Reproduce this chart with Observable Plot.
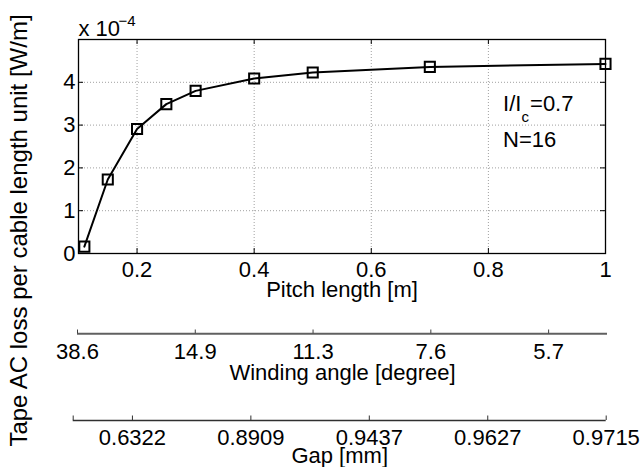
<!DOCTYPE html>
<html><head><meta charset="utf-8">
<script src="https://cdn.jsdelivr.net/npm/d3@7"></script>
<script src="https://cdn.jsdelivr.net/npm/@observablehq/plot@0.6"></script>
<style>
body{margin:0;background:#fff;}
#chart{position:relative;width:642px;height:467px;overflow:hidden;background:#fff;}
#chart svg{display:block;}
</style></head><body><div id="chart"></div>
<script>
// ---- data ----
const pitchLength = [0.11, 0.15, 0.2, 0.25, 0.3, 0.4, 0.5, 0.7, 1.0];      // m
const tapeLoss    = [0.16, 1.73, 2.91, 3.49, 3.80, 4.09, 4.23, 4.36, 4.43]; // x 1e-4 W/m
const lossExponent = -4;
const pitchTicks = [0.2, 0.4, 0.6, 0.8, 1];
const pitchTickLabels = ["0.2", "0.4", "0.6", "0.8", "1"];
const lossTicks = [0, 1, 2, 3, 4];
const lossTickLabels = ["0", "1", "2", "3", "4"];
const windingTicks = [0.1, 0.3, 0.5, 0.7, 0.9];
const windingLabels = ["38.6", "14.9", "11.3", "7.6", "5.7"];
const gapTicks = [0.2, 0.4, 0.6, 0.8, 1];
const gapLabels = ["0.6322", "0.8909", "0.9437", "0.9627", "0.9715"];
const pitchDomain = [0.1, 1];
const lossDomain = [0, 5];
const xLabel = "Pitch length [m]";
const yLabel = "Tape AC loss per cable length unit [W/m]";
const windingLabel = "Winding angle [degree]";
const gapLabel = "Gap [mm]";
const annRatio = {x: 0.825, y: 3.34};
const annN = {x: 0.825, y: 2.5, text: "N=16"};

const font = "'Liberation Sans', Arial, Helvetica, sans-serif";
const data = pitchLength.map((p, i) => ({pitch: p, loss: tapeLoss[i]}));
const T = d => d;
const baseStyle = {fontFamily: font, fontSize: "22px", background: "transparent", overflow: "visible", color: "black"};
const grid = {stroke: "#a0a0a0", strokeDasharray: "1,2", strokeWidth: 1};

const main = Plot.plot({
  width: 642, height: 300,
  marginLeft: 78, marginRight: 37, marginTop: 39, marginBottom: 47,
  style: baseStyle,
  x: {domain: pitchDomain},
  y: {domain: lossDomain},
  marks: [
    Plot.ruleX(pitchTicks.slice(0, -1), grid),
    Plot.ruleY(lossTicks.slice(1), grid),
    Plot.tickX(pitchTicks, {insetTop: 209, stroke: "black"}),
    Plot.tickX(pitchTicks, {insetBottom: 209, stroke: "black"}),
    Plot.tickY(lossTicks, {insetRight: 522, stroke: "black"}),
    Plot.tickY(lossTicks, {insetLeft: 522, stroke: "black"}),
    Plot.frame({stroke: "black", strokeWidth: 1.3}),
    Plot.line(data, {x: "pitch", y: "loss", stroke: "black", strokeWidth: 2}),
    Plot.dot(data, {x: "pitch", y: "loss", symbol: "square", r: 5.7, stroke: "black", strokeWidth: 2, fill: "none"}),
    Plot.axisX({ticks: pitchTicks, tickSize: 0, tickPadding: 8, label: null,
      tickFormat: d => pitchTickLabels[pitchTicks.indexOf(d)]}),
    Plot.axisY({ticks: lossTicks, tickSize: 0, tickPadding: 3, label: null,
      tickFormat: d => lossTickLabels[lossTicks.indexOf(d)]}),
    Plot.text([xLabel], {text: T, frameAnchor: "bottom", lineAnchor: "bottom", dy: 43}),
    Plot.text([yLabel], {text: T, frameAnchor: "left", rotate: -90, textAnchor: "middle", lineAnchor: "bottom", dx: -52, dy: 84, fontSize: 24}),
    Plot.text(["x 10"], {text: T, frameAnchor: "top-left", textAnchor: "start", lineAnchor: "bottom", dy: -4}),
    Plot.text([String(lossExponent).replace("-", "\u2212")], {text: T, frameAnchor: "top-left", textAnchor: "start", lineAnchor: "bottom", dx: 40, dy: -14, fontSize: 15}),
    Plot.text([annRatio], {x: "x", y: "y", text: () => "I/I", textAnchor: "start", lineAnchor: "bottom"}),
    Plot.text([annRatio], {x: "x", y: "y", text: () => "c", textAnchor: "start", lineAnchor: "bottom", dx: 18.5, dy: 11, fontSize: 15}),
    Plot.text([annRatio], {x: "x", y: "y", text: () => "=0.7", textAnchor: "start", lineAnchor: "bottom", dx: 27}),
    Plot.text([annN], {x: "x", y: "y", text: "text", textAnchor: "start", lineAnchor: "bottom"})
  ]
});

const winding = Plot.plot({
  width: 642, height: 85,
  marginLeft: 77, marginRight: 35, marginTop: 29.5, marginBottom: 51.7,
  style: baseStyle,
  x: {domain: pitchDomain},
  y: {domain: [0, 1], axis: null},
  marks: [
    Plot.ruleY([0], {stroke: "#606060", strokeWidth: 2}),
    Plot.tickX(windingTicks, {stroke: "#404040", strokeWidth: 1}),
    Plot.axisX({ticks: windingTicks, tickSize: 0, tickPadding: 9.4, label: null,
      tickFormat: d => windingLabels[windingTicks.indexOf(d)]}),
    Plot.text([windingLabel], {text: T, frameAnchor: "bottom", lineAnchor: "bottom", dy: 45.7})
  ]
});

const gap = Plot.plot({
  width: 642, height: 82,
  marginLeft: 72.7, marginRight: 36.3, marginTop: 30.5, marginBottom: 47,
  style: baseStyle,
  x: {domain: pitchDomain},
  y: {domain: [0, 1], axis: null},
  marks: [
    Plot.ruleY([0], {stroke: "#303030", strokeWidth: 1.3}),
    Plot.tickX([pitchDomain[0], ...gapTicks], {stroke: "#303030", strokeWidth: 1}),
    Plot.axisX({ticks: gapTicks, tickSize: 0, tickPadding: 8.4, label: null,
      tickFormat: d => gapLabels[gapTicks.indexOf(d)]}),
    Plot.text([gapLabel], {text: T, frameAnchor: "bottom", lineAnchor: "bottom", dy: 42})
  ]
});

const chart = document.getElementById("chart");
chart.append(main, winding, gap);
</script>
</body></html>
